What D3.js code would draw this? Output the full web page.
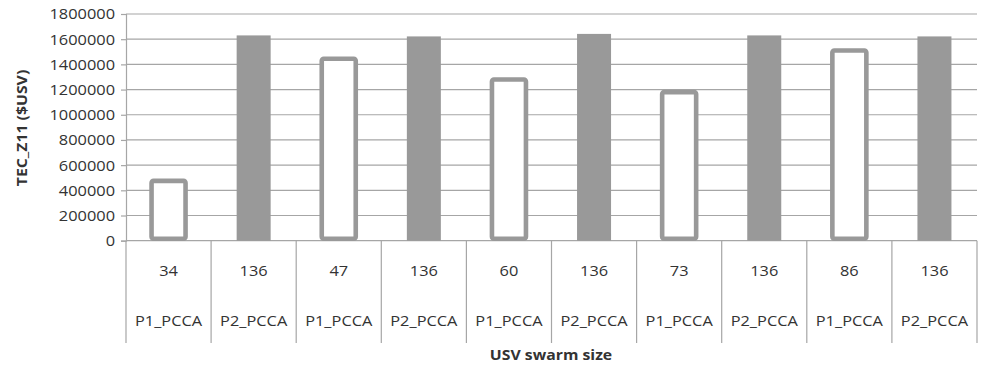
<!DOCTYPE html>
<html>
<head>
<meta charset="utf-8">
<script src="https://cdnjs.cloudflare.com/ajax/libs/d3/7.8.5/d3.min.js"></script>
<style>
  html, body { margin: 0; padding: 0; background: #fff; }
  svg { display: block; }
  text { font-family: "Open Sans", "Liberation Sans", sans-serif; fill: #333; }
</style>
</head>
<body>
<svg id="chart" width="983" height="366"></svg>
<script>
// Swarm sizes (first label row) and planner groups (second label row)
const swarmSizes = ["34", "136", "47", "136", "60", "136", "73", "136", "86", "136"];
const planners = ["P1_PCCA", "P2_PCCA", "P1_PCCA", "P2_PCCA", "P1_PCCA", "P2_PCCA", "P1_PCCA", "P2_PCCA", "P1_PCCA", "P2_PCCA"];
// TEC_Z11 cost for each bar
const tecValues = [475000, 1630000, 1445000, 1622000, 1280000, 1642000, 1180000, 1630000, 1510000, 1622000];
const yTickValues = [0, 200000, 400000, 600000, 800000, 1000000, 1200000, 1400000, 1600000, 1800000];

(function draw() {
  const svg = d3.select("#chart");
  const plotLeft = 126, plotRight = 977, plotTop = 14, plotBottom = 240.7;
  const labelRow1 = 271, labelRow2 = 321, labelBottom = 343;
  const stretch = 1.17;
  const gray = "#999999";
  const gridColor = "#a6a6a6";

  const keys = d3.range(tecValues.length);
  const x = d3.scaleBand().domain(keys).range([plotLeft, plotRight]).paddingInner(0).paddingOuter(0);
  const y = d3.scaleLinear().domain([0, 1800000]).range([plotBottom, plotTop]);

  // Horizontal gridlines
  svg.append("g")
    .selectAll("line")
    .data(yTickValues)
    .join("line")
    .attr("x1", plotLeft).attr("x2", plotRight)
    .attr("y1", d => y(d)).attr("y2", d => y(d))
    .attr("stroke", gridColor).attr("stroke-width", 1.2);

  // Y axis with tick labels
  const yAxis = svg.append("g")
    .attr("transform", `translate(${plotLeft},0)`)
    .call(d3.axisLeft(y).tickValues(yTickValues).tickSize(5).tickPadding(4).tickFormat(d3.format("d")));
  yAxis.select(".domain").attr("stroke", gridColor).attr("stroke-width", 1.2);
  yAxis.selectAll(".tick line").attr("stroke", gridColor).attr("stroke-width", 1.2);
  yAxis.selectAll(".tick text")
    .attr("font-size", 14)
    .attr("fill", "#333")
    .attr("font-family", "Open Sans, Liberation Sans, sans-serif")
    .attr("x", 0)
    .attr("dy", "0.35em")
    .attr("transform", `translate(-11,0) scale(${stretch},1)`);

  // Category dividers running through the label area
  const dividers = d3.range(tecValues.length + 1).map(i => i === tecValues.length ? plotRight : x(i));
  svg.append("g")
    .selectAll("line")
    .data(dividers)
    .join("line")
    .attr("x1", d => d).attr("x2", d => d)
    .attr("y1", plotBottom).attr("y2", labelBottom)
    .attr("stroke", gridColor).attr("stroke-width", 1.2);

  // Bars: P1 hollow with gray border, P2 solid gray
  const barW = 34;
  const bars = svg.append("g");
  keys.forEach(i => {
    const cx = x(i) + x.bandwidth() / 2;
    const isP1 = planners[i] === "P1_PCCA";
    if (isP1) {
      bars.append("rect")
        .attr("x", cx - barW / 2)
        .attr("y", y(tecValues[i]))
        .attr("width", barW)
        .attr("height", y(0) - y(tecValues[i]) - 2)
        .attr("rx", 2)
        .attr("fill", "#fff")
        .attr("stroke", gray)
        .attr("stroke-width", 4.6);
    } else {
      bars.append("rect")
        .attr("x", cx - barW / 2)
        .attr("y", y(tecValues[i]))
        .attr("width", barW)
        .attr("height", y(0) - y(tecValues[i]))
        .attr("fill", gray);
    }
  });

  // Category labels
  const labels = svg.append("g");
  keys.forEach(i => {
    const cx = x(i) + x.bandwidth() / 2;
    labels.append("text")
      .attr("text-anchor", "middle")
      .attr("font-size", 14)
      .attr("dy", "0.35em")
      .attr("transform", `translate(${cx},${labelRow1}) scale(${stretch},1)`)
      .text(swarmSizes[i]);
    labels.append("text")
      .attr("text-anchor", "middle")
      .attr("font-size", 14)
      .attr("dy", "0.35em")
      .attr("transform", `translate(${cx},${labelRow2}) scale(${stretch},1)`)
      .text(planners[i]);
  });

  // Axis titles
  svg.append("text")
    .attr("text-anchor", "middle")
    .attr("font-size", 13.5)
    .attr("font-weight", "bold")
    .attr("dy", "0.35em")
    .attr("transform", `translate(551,355) scale(${stretch},1)`)
    .text("USV swarm size");

  svg.append("text")
    .attr("text-anchor", "middle")
    .attr("font-size", 13.5)
    .attr("font-weight", "bold")
    .attr("dy", "0.35em")
    .attr("transform", `translate(22,128) rotate(-90) scale(${stretch},1)`)
    .text("TEC_Z11 ($USV)");
})();
</script>
</body>
</html>
